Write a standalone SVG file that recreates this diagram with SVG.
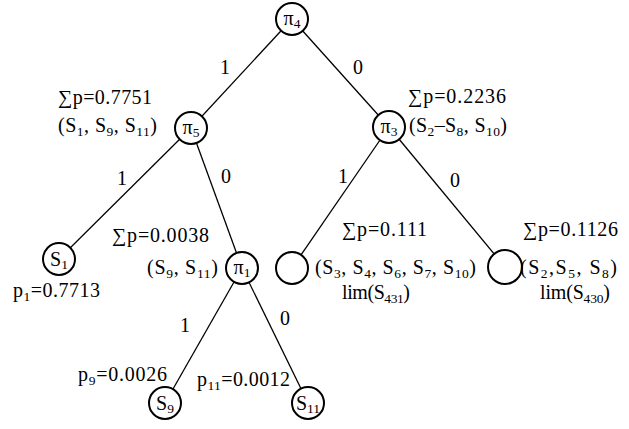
<svg xmlns="http://www.w3.org/2000/svg" width="629" height="429" viewBox="0 0 629 429" font-family="'Liberation Serif', 'Times New Roman', 'DejaVu Serif', serif">
<style>
text{font-family:'Liberation Serif','Times New Roman','DejaVu Serif',serif;font-size:20px;fill:#000}
.sub{font-size:13.5px}
.lbl{text-anchor:middle}
.node circle{fill:#fff;stroke:#000;stroke-width:2}
.edge line{stroke:#000;stroke-width:1.3}
</style>
<rect width="629" height="429" fill="#fff"/>
<g id="edges" class="edge">
<line x1="292" y1="19" x2="191" y2="128"/>
<line x1="292" y1="19" x2="389" y2="127"/>
<line x1="191" y1="128" x2="59" y2="259"/>
<line x1="191" y1="128" x2="242" y2="268"/>
<line x1="389" y1="127" x2="292" y2="268"/>
<line x1="389" y1="127" x2="505" y2="267"/>
<line x1="242" y1="268" x2="165" y2="403"/>
<line x1="242" y1="268" x2="308" y2="403"/>
<text class="lbl" x="225" y="74">1</text>
<text class="lbl" x="358" y="74">0</text>
<text class="lbl" x="122" y="185">1</text>
<text class="lbl" x="226" y="183">0</text>
<text class="lbl" x="343" y="183">1</text>
<text class="lbl" x="455" y="187">0</text>
<text class="lbl" x="185" y="332">1</text>
<text class="lbl" x="285" y="325">0</text>
</g>
<g id="pi4" class="node"><circle cx="292" cy="19" r="16"/><text class="lbl" x="292" y="25">π<tspan class="sub" dy="3">4</tspan></text></g>
<g id="pi5" class="node"><circle cx="191" cy="128" r="16"/><text class="lbl" x="191" y="134">π<tspan class="sub" dy="3">5</tspan></text>
<text x="58" y="104" textLength="94">∑p=0.7751</text>
<text x="58" y="132" textLength="99">(S<tspan class="sub" dy="4">1</tspan><tspan dy="-4">, S</tspan><tspan class="sub" dy="4">9</tspan><tspan dy="-4">, S</tspan><tspan class="sub" dy="4">11</tspan><tspan dy="-4">)</tspan></text></g>
<g id="pi3" class="node"><circle cx="389" cy="127" r="16"/><text class="lbl" x="389" y="133">π<tspan class="sub" dy="3">3</tspan></text>
<text x="408" y="103" textLength="98">∑p=0.2236</text>
<text x="409" y="132" textLength="98">(S<tspan class="sub" dy="4">2</tspan><tspan dy="-4">–S</tspan><tspan class="sub" dy="4">8</tspan><tspan dy="-4">, S</tspan><tspan class="sub" dy="4">10</tspan><tspan dy="-4">)</tspan></text></g>
<g id="s1" class="node"><circle cx="59" cy="259" r="16"/><text class="lbl" x="59" y="266">S<tspan class="sub" dy="3">1</tspan></text>
<text x="13" y="297" textLength="87">p<tspan class="sub" dy="4">1</tspan><tspan dy="-4">=0.7713</tspan></text></g>
<g id="pi1" class="node"><circle cx="242" cy="268" r="16"/><text class="lbl" x="242" y="274">π<tspan class="sub" dy="3">1</tspan></text>
<text x="112" y="242" textLength="97">∑p=0.0038</text>
<text x="147" y="274" textLength="71">(S<tspan class="sub" dy="4">9</tspan><tspan dy="-4">, S</tspan><tspan class="sub" dy="4">11</tspan><tspan dy="-4">)</tspan></text></g>
<g id="leaf431" class="node"><circle cx="292" cy="268" r="16"/>
<text x="342" y="236" textLength="85">∑p=0.111</text>
<text x="315" y="274" textLength="161">(S<tspan class="sub" dy="4">3</tspan><tspan dy="-4">, S</tspan><tspan class="sub" dy="4">4</tspan><tspan dy="-4">, S</tspan><tspan class="sub" dy="4">6</tspan><tspan dy="-4">, S</tspan><tspan class="sub" dy="4">7</tspan><tspan dy="-4">, S</tspan><tspan class="sub" dy="4">10</tspan><tspan dy="-4">)</tspan></text>
<text x="342" y="299" textLength="68">lim(S<tspan class="sub" dy="4">431</tspan><tspan dy="-4">)</tspan></text></g>
<g id="leaf430" class="node"><circle cx="505" cy="267" r="17"/>
<text x="523" y="236" textLength="95">∑p=0.1126</text>
<text x="520" y="274" textLength="97">(S<tspan class="sub" dy="4">2</tspan><tspan dy="-4">,S</tspan><tspan class="sub" dy="4">5</tspan><tspan dy="-4">, S</tspan><tspan class="sub" dy="4">8</tspan><tspan dy="-4">)</tspan></text>
<text x="540" y="299" textLength="70">lim(S<tspan class="sub" dy="4">430</tspan><tspan dy="-4">)</tspan></text></g>
<g id="s9" class="node"><circle cx="165" cy="403" r="16"/><text class="lbl" x="165" y="410">S<tspan class="sub" dy="3">9</tspan></text>
<text x="78" y="381" textLength="89">p<tspan class="sub" dy="4">9</tspan><tspan dy="-4">=0.0026</tspan></text></g>
<g id="s11" class="node"><circle cx="308" cy="403" r="16"/><text class="lbl" x="308" y="410">S<tspan class="sub" dy="3">11</tspan></text>
<text x="197" y="386" textLength="93">p<tspan class="sub" dy="4">11</tspan><tspan dy="-4">=0.0012</tspan></text></g>
</svg>
